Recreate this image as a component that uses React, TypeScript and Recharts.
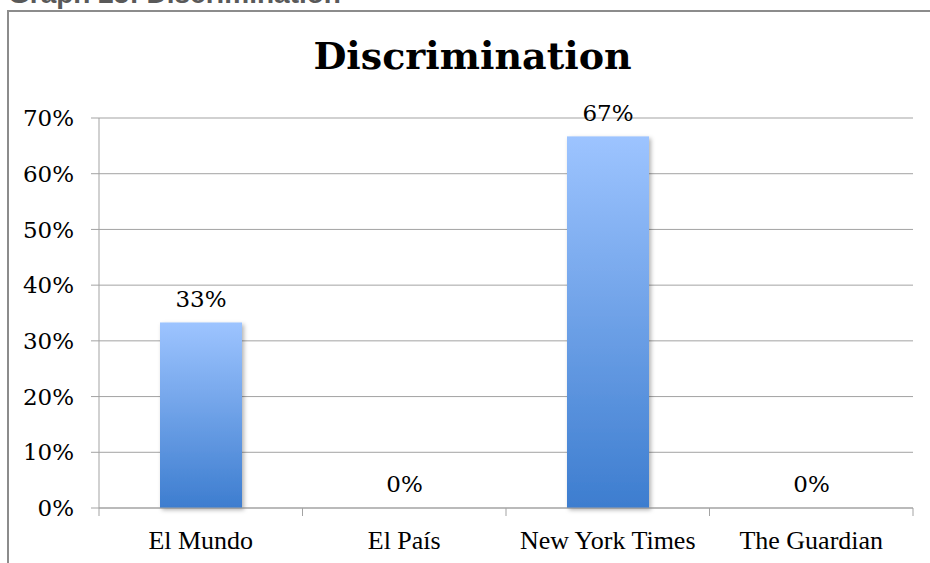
import { Bar, BarChart, CartesianGrid, LabelList, XAxis, YAxis } from "recharts";

const categories = ["El Mundo", "El País", "New York Times", "The Guardian"];
const shares = [33.3, 0, 66.7, 0];
const yTicks = [0, 10, 20, 30, 40, 50, 60, 70];

const data = categories.map((name, i) => ({ name, value: shares[i] }));

const GRID = "#a3a3a3";
const NUM_FONT = "'DejaVu Serif', serif";
const CAT_FONT = "'Liberation Serif', serif";
const X_TICK_MARGIN = 23;

function CategoryTick(props: any) {
  const { x, y, payload, index } = props;
  const half = payload?.offset ?? 0;
  const axisY = y - X_TICK_MARGIN;
  return (
    <g>
      {index === 0 ? <line x1={x - half} x2={x - half} y1={axisY} y2={axisY + 8} stroke={GRID} /> : null}
      <line x1={x + half} x2={x + half} y1={axisY} y2={axisY + 8} stroke={GRID} />
      <text x={x} y={y} dy="0.71em" textAnchor="middle" fill="#000" fontSize={26} fontFamily={CAT_FONT}>
        {payload.value}
      </text>
    </g>
  );
}

// zero bars keep a 1px slot so their label still gets drawn, but no rect
function BarShape(props: any) {
  const { x, y, width, height, payload } = props;
  if (!payload || !(payload.value > 0)) return <g />;
  return <rect x={x} y={y} width={width} height={height} fill="url(#barGrad)" filter="url(#barShadow)" />;
}

export default function App() {
  return (
    <div style={{ position: "fixed", left: 0, top: 0, width: 930, height: 563, overflow: "hidden", background: "#fff" }}>
      <div
        style={{
          position: "absolute",
          left: 8,
          top: -20,
          fontFamily: "'Liberation Sans', sans-serif",
          fontWeight: 700,
          fontSize: 28,
          lineHeight: 1,
          color: "#595959",
          whiteSpace: "nowrap",
        }}
      >
        Graph 25: Discrimination
      </div>
      <div
        style={{
          position: "absolute",
          left: 7,
          top: 10,
          width: 1000,
          height: 1000,
          border: "2px solid #8c8c8c",
        }}
      />
      <div
        style={{
          position: "absolute",
          left: 0,
          top: 37,
          width: 945,
          textAlign: "center",
          fontFamily: NUM_FONT,
          fontWeight: 700,
          fontSize: 38,
          lineHeight: 1,
          color: "#000",
        }}
      >
        Discrimination
      </div>
      <div style={{ position: "absolute", left: 0, top: 0 }}>
        <BarChart width={930} height={563} data={data} margin={{ top: 118, right: 17, bottom: 15, left: 0 }}>
          <defs>
            <linearGradient id="barGrad" x1="0" y1="0" x2="0" y2="1">
              <stop offset="0%" stopColor="#9dc4ff" />
              <stop offset="100%" stopColor="#3d7dcf" />
            </linearGradient>
            <filter id="barShadow" x="-10%" y="-10%" width="130%" height="130%">
              <feDropShadow dx="2" dy="2" stdDeviation="2" floodColor="#000" floodOpacity="0.3" />
            </filter>
          </defs>
          <CartesianGrid vertical={false} stroke={GRID} />
          <XAxis
            dataKey="name"
            height={40}
            axisLine={{ stroke: GRID }}
            tickLine={false}
            tickSize={0}
            tickMargin={X_TICK_MARGIN}
            interval={0}
            tick={<CategoryTick />}
          />
          <YAxis
            width={99}
            domain={[0, 70]}
            ticks={yTicks}
            tickFormatter={(v) => `${v}%`}
            axisLine={{ stroke: GRID }}
            tickLine={{ stroke: GRID }}
            tickSize={8}
            tickMargin={17}
            tick={{ fill: "#000", fontSize: 23, fontFamily: NUM_FONT }}
          />
          <Bar
            dataKey="value"
            fill="url(#barGrad)"
            barSize={82}
            minPointSize={1}
            shape={<BarShape />}
            isAnimationActive={false}
          >
            <LabelList
              dataKey="value"
              position="top"
              offset={15}
              formatter={(v: any) => `${Math.round(Number(v))}%`}
              fill="#000"
              fontSize={23}
              fontFamily={NUM_FONT}
            />
          </Bar>
        </BarChart>
      </div>
    </div>
  );
}
